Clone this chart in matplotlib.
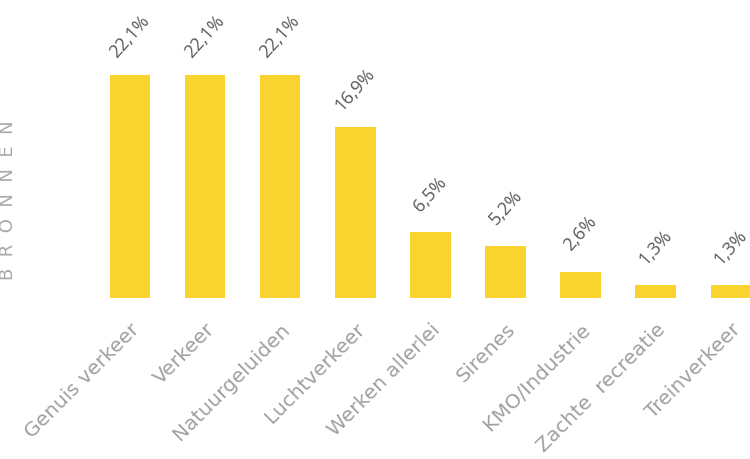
import matplotlib.pyplot as plt

categories = ["Genuis verkeer", "Verkeer", "Natuurgeluiden", "Luchtverkeer",
              "Werken allerlei", "Sirenes", "KMO/Industrie", "Zachte  recreatie",
              "Treinverkeer"]
values = [22.1, 22.1, 22.1, 16.9, 6.5, 5.2, 2.6, 1.3, 1.3]
value_labels = ["22,1%", "22,1%", "22,1%", "16,9%", "6,5%", "5,2%", "2,6%", "1,3%", "1,3%"]

fig = plt.figure(figsize=(7.5, 4.6), dpi=100)
# axes spans full width; baseline at y=299px from top
ax = fig.add_axes([0, 161 / 460, 1, 299 / 460])
xs = list(range(len(categories)))
ax.bar(xs, values, width=0.54, color="#F9D42F", zorder=2)
ax.set_xlim(-130 / 75.1, 620 / 75.1)
ax.set_ylim(0, 299 / 10.09)

for x, v, lab in zip(xs, values, value_labels):
    ax.annotate(lab, (x, v), xytext=(0, 28), textcoords="offset points",
                ha="center", va="center", rotation=48, fontsize=13,
                color="#5a5a5a", family="Open Sans")

ax.set_xticks(xs)
ax.set_xticklabels(categories, rotation=45, ha="right", rotation_mode="anchor",
                   fontsize=14.5, color="#a0a0a0", family="DejaVu Sans")
ax.tick_params(axis="x", length=0, pad=15)
ax.set_yticks([])
for s in ax.spines.values():
    s.set_visible(False)

fig.text(8 / 750, 1 - 200 / 460, "B  R  O  N  N  E  N", rotation=90, ha="center",
         va="center", fontsize=13, color="#a8a8a8", family="DejaVu Sans")

fig.savefig("out.png", dpi=100)
